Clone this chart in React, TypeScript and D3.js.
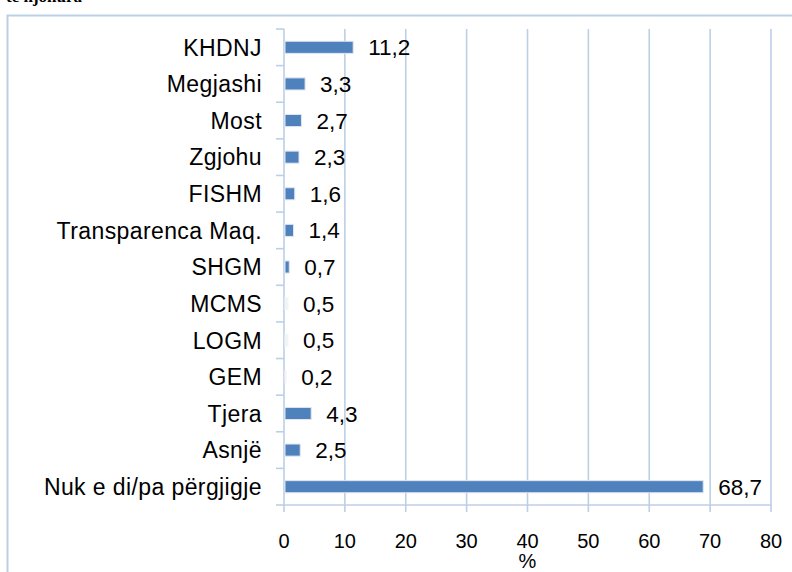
import React from "react";
import * as d3 from "d3";

const categories = [
  "KHDNJ",
  "Megjashi",
  "Most",
  "Zgjohu",
  "FISHM",
  "Transparenca Maq.",
  "SHGM",
  "MCMS",
  "LOGM",
  "GEM",
  "Tjera",
  "Asnjë",
  "Nuk e di/pa përgjigje",
];
const values = [11.2, 3.3, 2.7, 2.3, 1.6, 1.4, 0.7, 0.5, 0.5, 0.2, 4.3, 2.5, 68.7];
const xTicks = [0, 10, 20, 30, 40, 50, 60, 70, 80];
const axisTitle = "%";
const faintCategories = new Set(["MCMS", "LOGM", "GEM"]);

const W = 792;
const H = 572;
const GRID = "#bccfe6";
const BLUE = "#4f81bd";
const FONT = "'Liberation Sans', Arial, sans-serif";

export default function App() {
  const x = d3.scaleLinear().domain([0, 80]).range([284, 771]);
  const y = d3.scaleBand<string>().domain(categories).range([29, 505]).paddingInner(0.67).paddingOuter(0.335);
  const bandStep = y.step();
  const bandTop = 29;
  const boundaries = d3.range(categories.length + 1).map((i) => bandTop + i * bandStep);
  const fmt = (v: number) => v.toFixed(1).replace(".", ",");

  return (
    <svg width={W} height={H} style={{ position: "absolute", left: 0, top: 0, background: "#fff" }}>
      <text x={6} y={2} fontFamily="'Liberation Serif', serif" fontWeight="bold" fontSize={17} fill="#000">
        të njohura
      </text>
      {/* outer border */}
      <path d={`M7.5,${H + 5} V15.5 H${W + 5}`} fill="none" stroke={GRID} strokeWidth={2} />
      {/* gridlines */}
      {xTicks.map((t) => (
        <line key={"g" + t} x1={x(t)} x2={x(t)} y1={29} y2={512} stroke={GRID} strokeWidth={1.6} />
      ))}
      {/* horizontal axis */}
      <line x1={x(0)} x2={x(80)} y1={505} y2={505} stroke={GRID} strokeWidth={1.6} />
      {/* category ticks */}
      {boundaries.map((b, i) => (
        <line key={"c" + i} x1={276} x2={x(0)} y1={b} y2={b} stroke={GRID} strokeWidth={1.6} />
      ))}
      {/* bars */}
      {categories.map((c, i) => {
        const faint = faintCategories.has(c);
        return (
          <rect
            key={"b" + c}
            x={x(0) + 1}
            y={y(c)!}
            width={Math.max(0, x(values[i]) - x(0))}
            height={y.bandwidth()}
            fill={faint ? "#f3f3f3" : BLUE}
            stroke={faint ? "#f6f6f6" : "#dfe6f0"}
            strokeWidth={1}
          />
        );
      })}
      {/* category labels */}
      {categories.map((c) => (
        <text
          key={"l" + c}
          x={262}
          y={y(c)! + y.bandwidth() / 2}
          dy="0.36em"
          textAnchor="end"
          fontFamily={FONT}
          fontSize={23}
          letterSpacing={0.4}
          fill="#000"
        >
          {c}
        </text>
      ))}
      {/* value labels */}
      {categories.map((c, i) => (
        <text
          key={"v" + c}
          x={x(values[i]) + 16}
          y={y(c)! + y.bandwidth() / 2}
          dy="0.36em"
          fontFamily={FONT}
          fontSize={22.5}
          fill="#000"
        >
          {fmt(values[i])}
        </text>
      ))}
      {/* tick labels */}
      {xTicks.map((t) => (
        <text key={"t" + t} x={x(t)} y={548} textAnchor="middle" fontFamily={FONT} fontSize={20} fill="#000">
          {t}
        </text>
      ))}
      <text x={x(40)} y={568} textAnchor="middle" fontFamily={FONT} fontSize={20} fill="#000">
        {axisTitle}
      </text>
    </svg>
  );
}
